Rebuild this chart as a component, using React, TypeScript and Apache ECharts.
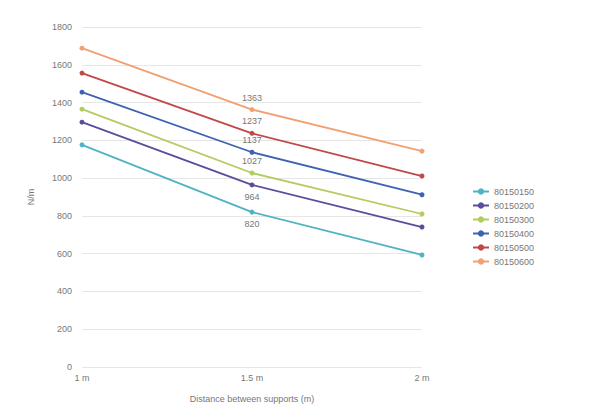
import React, { useEffect, useRef } from "react";
import * as echarts from "echarts";

const categories = ["1 m", "1.5 m", "2 m"];
const seriesNames = ["80150150", "80150200", "80150300", "80150400", "80150500", "80150600"];
const s1 = [1176, 820, 593];
const s2 = [1296, 964, 741];
const s3 = [1365, 1027, 810];
const s4 = [1455, 1137, 912];
const s5 = [1556, 1237, 1011];
const s6 = [1688, 1363, 1143];
const colors = ["#4fb3c3", "#5a4e9a", "#b2cc5e", "#3d62b3", "#c04848", "#f2a072"];
const labelPos = ["bottom", "bottom", "top", "top", "top", "top"];

export default function App() {
  const ref = useRef<HTMLDivElement>(null);
  useEffect(() => {
    if (!ref.current) return;
    const chart = echarts.init(ref.current, null, { renderer: "svg" });
    const all = [s1, s2, s3, s4, s5, s6];
    chart.setOption({
      animation: false,
      color: colors,
      grid: { left: 82, right: 194, top: 27, bottom: 41, outerBoundsMode: "none", containLabel: false },
      legend: {
        orient: "vertical",
        left: 467,
        top: 182,
        itemWidth: 16,
        itemHeight: 8,
        itemGap: 5,
        textStyle: { fontSize: 9, color: "#777" },
        data: seriesNames,
      },
      xAxis: {
        type: "category",
        data: categories,
        boundaryGap: false,
        name: "Distance between supports (m)",
        nameLocation: "middle",
        nameGap: 27,
        nameTextStyle: { fontSize: 9, color: "#777" },
        axisLine: { show: false },
        axisTick: { show: false },
        axisLabel: { fontSize: 9, color: "#777", margin: 6 },
      },
      yAxis: {
        type: "value",
        min: 0,
        max: 1800,
        interval: 200,
        name: "N/m",
        nameLocation: "middle",
        nameGap: 47,
        nameTextStyle: { fontSize: 9, color: "#777" },
        axisLabel: { fontSize: 9, color: "#777", margin: 10, formatter: (v: number) => String(v) },
        splitLine: { lineStyle: { color: "#e6e6e6" } },
      },
      series: all.map((d, i) => ({
        name: seriesNames[i],
        type: "line",
        data: d,
        symbol: "circle",
        symbolSize: 5,
        lineStyle: { width: 1.8 },
        label: {
          show: true,
          position: labelPos[i],
          fontSize: 9,
          color: "#777",
          formatter: (p: any) => (p.dataIndex === 1 ? String(p.value) : ""),
        },
      })),
    });
    return () => chart.dispose();
  }, []);
  return <div ref={ref} style={{ position: "absolute", left: 0, top: 0, width: 616, height: 408 }} />;
}
